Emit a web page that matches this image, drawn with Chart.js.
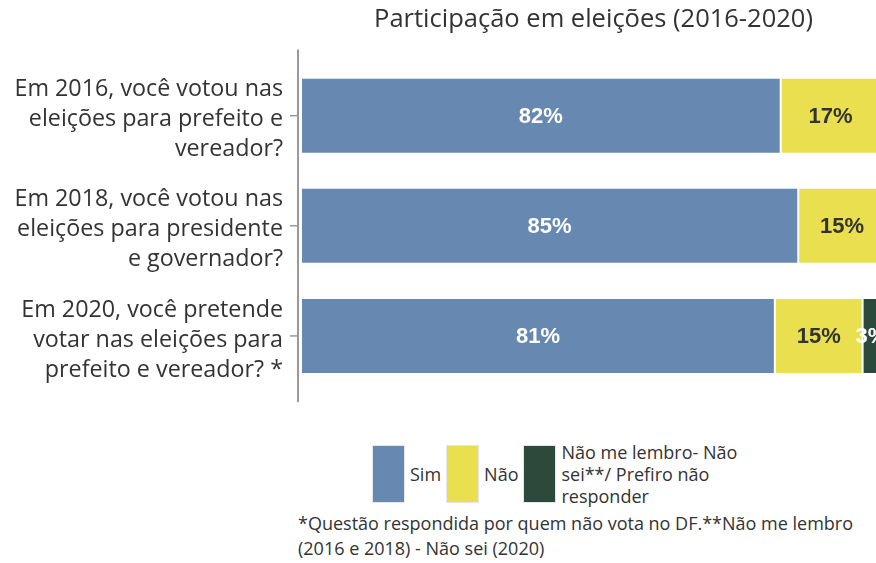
<!DOCTYPE html>
<html>
<head>
<meta charset="utf-8">
<script src="https://cdn.jsdelivr.net/npm/chart.js@4/dist/chart.umd.min.js"></script>
<style>
  html, body { margin: 0; padding: 0; background: #fff; overflow: hidden; width: 876px; height: 563px; }
  #wrap { position: relative; width: 876px; height: 563px; overflow: hidden; }
  #chart { position: absolute; left: 0; top: 0; }
  .legend { position: absolute; left: 372px; top: 441px; display: flex; align-items: center; font-family: "Open Sans", sans-serif; font-size: 18px; color: #333; }
  .legend .item { display: flex; align-items: center; margin-right: 5px; }
  .legend .box { width: 31px; height: 56px; border: 1px solid #e6e6e6; box-sizing: content-box; margin-right: 5px; }
  .legend .multi { line-height: 22px; }
  .note { position: absolute; left: 298px; top: 511px; width: 575px; font-family: "Open Sans", sans-serif; font-size: 18px; line-height: 25px; color: #333; }
</style>
</head>
<body>
<div id="wrap">
  <canvas id="chart" width="886" height="410"></canvas>
  <div class="legend" id="legend"></div>
  <div class="note">*Questão respondida por quem não vota no DF.**Não me lembro (2016 e 2018) - Não sei (2020)</div>
</div>
<script>
const TITLE = "Participação em eleições (2016-2020)"

const CATEGORIES = [
  ["Em 2016, você votou nas", "eleições para prefeito e", "vereador?"],
  ["Em 2018, você votou nas", "eleições para presidente", "e governador?"],
  ["Em 2020, você pretende", "votar nas eleições para", "prefeito e vereador? *"]
]

const SERIES_NAMES = ["Sim", "Não", "Não me lembro- Não sei**/ Prefiro não responder"]
const LEGEND_LINES = [["Sim"], ["Não"], ["Não me lembro- Não", "sei**/ Prefiro não", "responder"]]
const SIM = [82, 85, 81]
const NAO = [17, 15, 15]
const NAO_LEMBRO = [1, 0, 3]

const COLORS = ["#6688b1", "#e9df4f", "#2b4a3c"]
const LABEL_COLORS = ["#ffffff", "#333333", "#ffffff"]
const AXIS_COLOR = "#999"
const TEXT_COLOR = "#333"
const MIN_LABEL = 2

// Percent labels drawn in the middle of each segment
const segmentLabels = {
  id: "segmentLabels",
  afterDatasetsDraw(chart) {
    const { ctx } = chart
    ctx.save()
    ctx.font = "bold 22px 'Liberation Sans', Arial, sans-serif"
    ctx.textAlign = "center"
    ctx.textBaseline = "middle"
    chart.data.datasets.forEach((ds, di) => {
      const meta = chart.getDatasetMeta(di)
      meta.data.forEach((bar, i) => {
        const v = ds.data[i]
        if (v < MIN_LABEL) return
        ctx.fillStyle = LABEL_COLORS[di]
        ctx.fillText(v + "%", (bar.x + bar.base) / 2, bar.y + 1)
      })
    })
    ctx.restore()
  }
}

// Gray axis line that runs a bit past the bars, plus short tick dashes
const axisLine = {
  id: "axisLine",
  afterDraw(chart) {
    const { ctx, chartArea, scales } = chart
    const x = chartArea.left - 3
    ctx.save()
    ctx.strokeStyle = AXIS_COLOR
    ctx.lineWidth = 2
    ctx.beginPath()
    ctx.moveTo(x, chartArea.top - 11)
    ctx.lineTo(x, chartArea.bottom + 11)
    ctx.stroke()
    ctx.lineWidth = 1.5
    scales.y.ticks.forEach((t, i) => {
      const py = scales.y.getPixelForTick(i)
      ctx.beginPath()
      ctx.moveTo(x - 8, py)
      ctx.lineTo(x, py)
      ctx.stroke()
    })
    ctx.restore()
  }
}

new Chart(document.getElementById("chart").getContext("2d"), {
  type: "bar",
  plugins: [segmentLabels, axisLine],
  data: {
    labels: CATEGORIES,
    datasets: [SIM, NAO, NAO_LEMBRO].map((values, i) => ({
      label: SERIES_NAMES[i],
      data: values,
      backgroundColor: COLORS[i],
      borderColor: "#ffffff",
      borderWidth: 1,
      borderSkipped: false,
      categoryPercentage: 1,
      barPercentage: 0.69
    }))
  },
  options: {
    indexAxis: "y",
    responsive: false,
    animation: false,
    layout: { padding: { top: 0, right: 0, left: 0, bottom: 19 } },
    plugins: {
      legend: { display: false },
      tooltip: { enabled: false },
      title: {
        display: true,
        text: TITLE,
        fullSize: false,
        color: TEXT_COLOR,
        font: { family: "'Open Sans', sans-serif", size: 25.5, weight: "normal" },
        padding: { top: 4, bottom: 26 }
      }
    },
    scales: {
      x: {
        stacked: true,
        min: 0,
        max: 100,
        display: false
      },
      y: {
        stacked: true,
        grid: { display: false },
        border: { display: false },
        afterFit: (axis) => {
          axis.width = 301
          // the tall 3-line labels may overhang the plot; don't shrink it for them
          axis.paddingTop = 0
          axis.paddingBottom = 0
        },
        ticks: {
          color: TEXT_COLOR,
          padding: 10,
          labelOffset: 4,
          font: { family: "'Open Sans', sans-serif", size: 23.3, lineHeight: 1.29 }
        }
      }
    }
  }
})

// HTML legend (the third label wraps over three lines)
const legend = document.getElementById("legend")
SERIES_NAMES.forEach((name, i) => {
  const item = document.createElement("div")
  item.className = "item"
  const box = document.createElement("div")
  box.className = "box"
  box.style.background = COLORS[i]
  const label = document.createElement("div")
  label.className = LEGEND_LINES[i].length > 1 ? "multi" : ""
  label.innerHTML = LEGEND_LINES[i].join("<br>")
  item.appendChild(box)
  item.appendChild(label)
  legend.appendChild(item)
})
</script>
</body>
</html>
